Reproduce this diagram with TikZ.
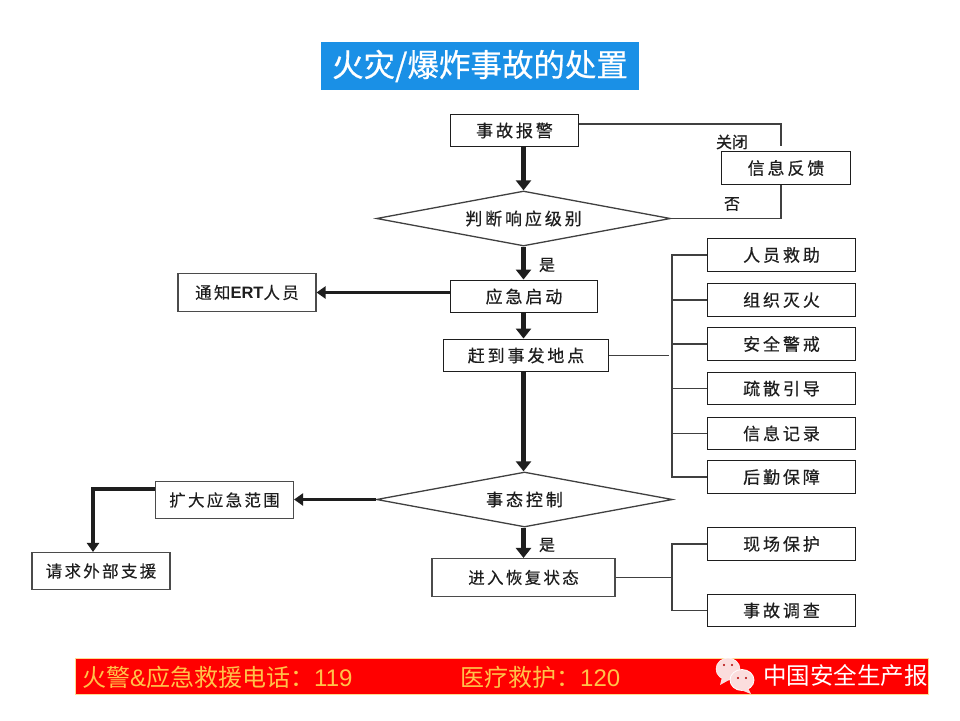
\documentclass[tikz,border=0pt]{standalone}
\usepackage{fontspec}
\usepackage{xcolor}
\usetikzlibrary{arrows.meta,shapes.geometric}
\setmainfont{Noto Sans CJK SC}
\newfontfamily\cjkwide[LetterSpace=17,FakeBold=0.5]{Noto Sans CJK SC}
\newfontfamily\cjknarrow[LetterSpace=14,FakeBold=0.2]{Noto Sans CJK SC}
\newfontfamily\cjkheavy[FakeBold=0.6]{Noto Sans CJK SC}
\newfontfamily\latinsans{Liberation Sans}
\definecolor{titleblue}{HTML}{1A90E6}
\definecolor{hotline}{HTML}{FFC24A}
\definecolor{inkgray}{HTML}{1E1E1E}
\definecolor{bubble}{HTML}{FBDDDD}
\tikzset{
  stepbox/.style={draw=inkgray,line width=1.9pt,text=inkgray,font=\cjkwide\fontsize{17}{17}\selectfont,inner sep=0pt},
  sidebox/.style={draw=inkgray!80,line width=1.1pt,text=inkgray,font=\cjknarrow\fontsize{16.5}{16.5}\selectfont,inner sep=0pt},
  judgebox/.style={diamond,draw=inkgray!85,line width=1.3pt,text=inkgray,font=\cjkwide\fontsize{17}{17}\selectfont,inner sep=0pt,aspect=5.35},
  flow/.style={line width=5pt,inkgray,-{Triangle[length=10pt,width=15pt]}},
  thinflow/.style={line width=3.6pt,inkgray,-{Triangle[length=9pt,width=12pt]}},
  branch/.style={line width=1.8pt,inkgray!85},
  note/.style={text=inkgray,font=\cjkheavy\fontsize{16}{16}\selectfont,inner sep=0pt},
  hotlabel/.style={text=hotline,font=\fontsize{24}{24}\selectfont,inner sep=0pt,anchor=west},
}
\begin{document}
\begin{tikzpicture}[x=1pt,y=-1pt]
  \useasboundingbox (0,0) rectangle (960,720);
  \fill[white] (0,0) rectangle (960,720);
  % title
  \node[fill=titleblue,text=white,minimum width=318pt,minimum height=48pt,inner sep=0pt,font=\cjkheavy\fontsize{31.5}{31.5}\selectfont] (title) at (480,66) {火灾/爆炸事故的处置};
  % main column
  \node[stepbox,minimum width=128pt,minimum height=32pt] (alarm) at (514.5,130.5) {事故报警};
  \node[judgebox,minimum width=294pt,minimum height=55pt] (judge) at (523.5,218.5) {判断响应级别};
  \node[stepbox,minimum width=129pt,minimum height=33pt] (feedback) at (786,168) {信息反馈};
  \node[stepbox,minimum width=147pt,minimum height=32pt] (start) at (524,296.5) {应急启动};
  \node[stepbox,minimum width=165pt,minimum height=32pt] (arrive) at (526,355.5) {赶到事发地点};
  \node[judgebox,minimum width=296pt,minimum height=55pt] (control) at (524.5,499.5) {事态控制};
  \node[sidebox,minimum width=183pt,minimum height=38pt] (recover) at (523.5,577.5) {进入恢复状态};
  % left side
  \node[sidebox,minimum width=138pt,minimum height=38pt] (notify) at (247,292.5) {通知{\latinsans\bfseries ERT}人员};
  \node[sidebox,minimum width=138pt,minimum height=37pt] (expand) at (224.5,500) {扩大应急范围};
  \node[sidebox,minimum width=138pt,minimum height=37pt] (support) at (101,571) {请求外部支援};
  % right side
  \node[stepbox,minimum width=148pt,minimum height=33pt] (rescue) at (781.5,255) {人员救助};
  \node[stepbox,minimum width=148pt,minimum height=33pt] (fire) at (781.5,300) {组织灭火};
  \node[stepbox,minimum width=148pt,minimum height=33pt] (guard) at (781.5,344) {安全警戒};
  \node[stepbox,minimum width=148pt,minimum height=32pt] (evacuate) at (781.5,388.5) {疏散引导};
  \node[stepbox,minimum width=148pt,minimum height=32pt] (record) at (781.5,433.5) {信息记录};
  \node[stepbox,minimum width=148pt,minimum height=33pt] (logistics) at (781.5,477) {后勤保障};
  \node[stepbox,minimum width=148pt,minimum height=33pt] (protect) at (781.5,544) {现场保护};
  \node[stepbox,minimum width=148pt,minimum height=32pt] (survey) at (781.5,610.5) {事故调查};
  % labels
  \node[note] (closed) at (732,142) {关闭};
  \node[note] (no) at (732,204) {否};
  \node[note] (yesa) at (547,265) {是};
  \node[note] (yesb) at (547,545) {是};
  % free ends
  \coordinate (alarmout) at (781,124);
  \coordinate (closeend) at (781,146);
  \coordinate (judgeout) at (781,217);
  \coordinate (stuba) at (669,355);
  \coordinate (busa) at (672,355);
  \coordinate (busb) at (672,576);
  \coordinate (expandout) at (93,489);
  % thick arrows
  \draw[flow] (judge.north |- alarm.south) -- (judge.north);
  \draw[flow] (judge.south) -- (judge.south |- start.north);
  \draw[flow] (start.south -| judge.south) -- (judge.south |- arrive.north);
  \draw[flow] (arrive.south -| judge.south) -- (judge.south |- control.north);
  \draw[flow] (control.south -| judge.south) -- (judge.south |- recover.north);
  \draw[thinflow] (start.west |- notify.east) -- (notify.east);
  \draw[thinflow] (control.west) -- (control.west -| expand.east);
  \draw[thinflow] (expand.west |- expandout) -- (expandout) -- (expandout |- support.north);
  % thin lines
  \draw[branch] (alarm.east |- alarmout) -- (alarmout) -- (closeend);
  \draw[branch] (judge.east) -- (judgeout |- judge.east) -- (judgeout |- feedback.south);
  \draw[branch] (arrive.east) -- (arrive.east -| stuba);
  \draw[branch] (rescue.west) -- (rescue.west -| busa) -- (logistics.west -| busa) -- (logistics.west);
  \foreach \item in {fire,guard,evacuate,record}
    \draw[branch] (\item.west -| busa) -- (\item.west);
  \draw[branch] (recover.east) -- (recover.east -| busb);
  \draw[branch] (protect.west) -- (protect.west -| busb) -- (survey.west -| busb) -- (survey.west);
  % footer
  \node[fill=red,draw=hotline!60,line width=0.6pt,minimum width=853pt,minimum height=36pt,inner sep=0pt] (footer) at (501.5,676) {};
  \node[hotlabel] (firecall) at (82,677) {火警{\latinsans\&}应急救援电话：{\latinsans 119}};
  \node[hotlabel] (medcall) at (460,677) {医疗救护：{\latinsans 120}};
  % chat icon
  \filldraw[bubble,draw=white,line width=0.5pt] (728,669) ellipse (12 and 11);
  \fill[bubble] (722,677) -- (720,685) -- (729,680) -- cycle;
  \filldraw[bubble,draw=white,line width=0.8pt] (742,680) ellipse (12 and 10.5);
  \fill[bubble] (748,688) -- (751,694) -- (741,690) -- cycle;
  \fill[red!70!black] (724,665) circle (1.2) (732,665) circle (1.2) (738,678) circle (1.2) (746,678) circle (1.2);
  \node[text=white,font=\fontsize{23.5}{23.5}\selectfont,inner sep=0pt,anchor=east] (press) at (928,676) {中国安全生产报};
\end{tikzpicture}
\end{document}
